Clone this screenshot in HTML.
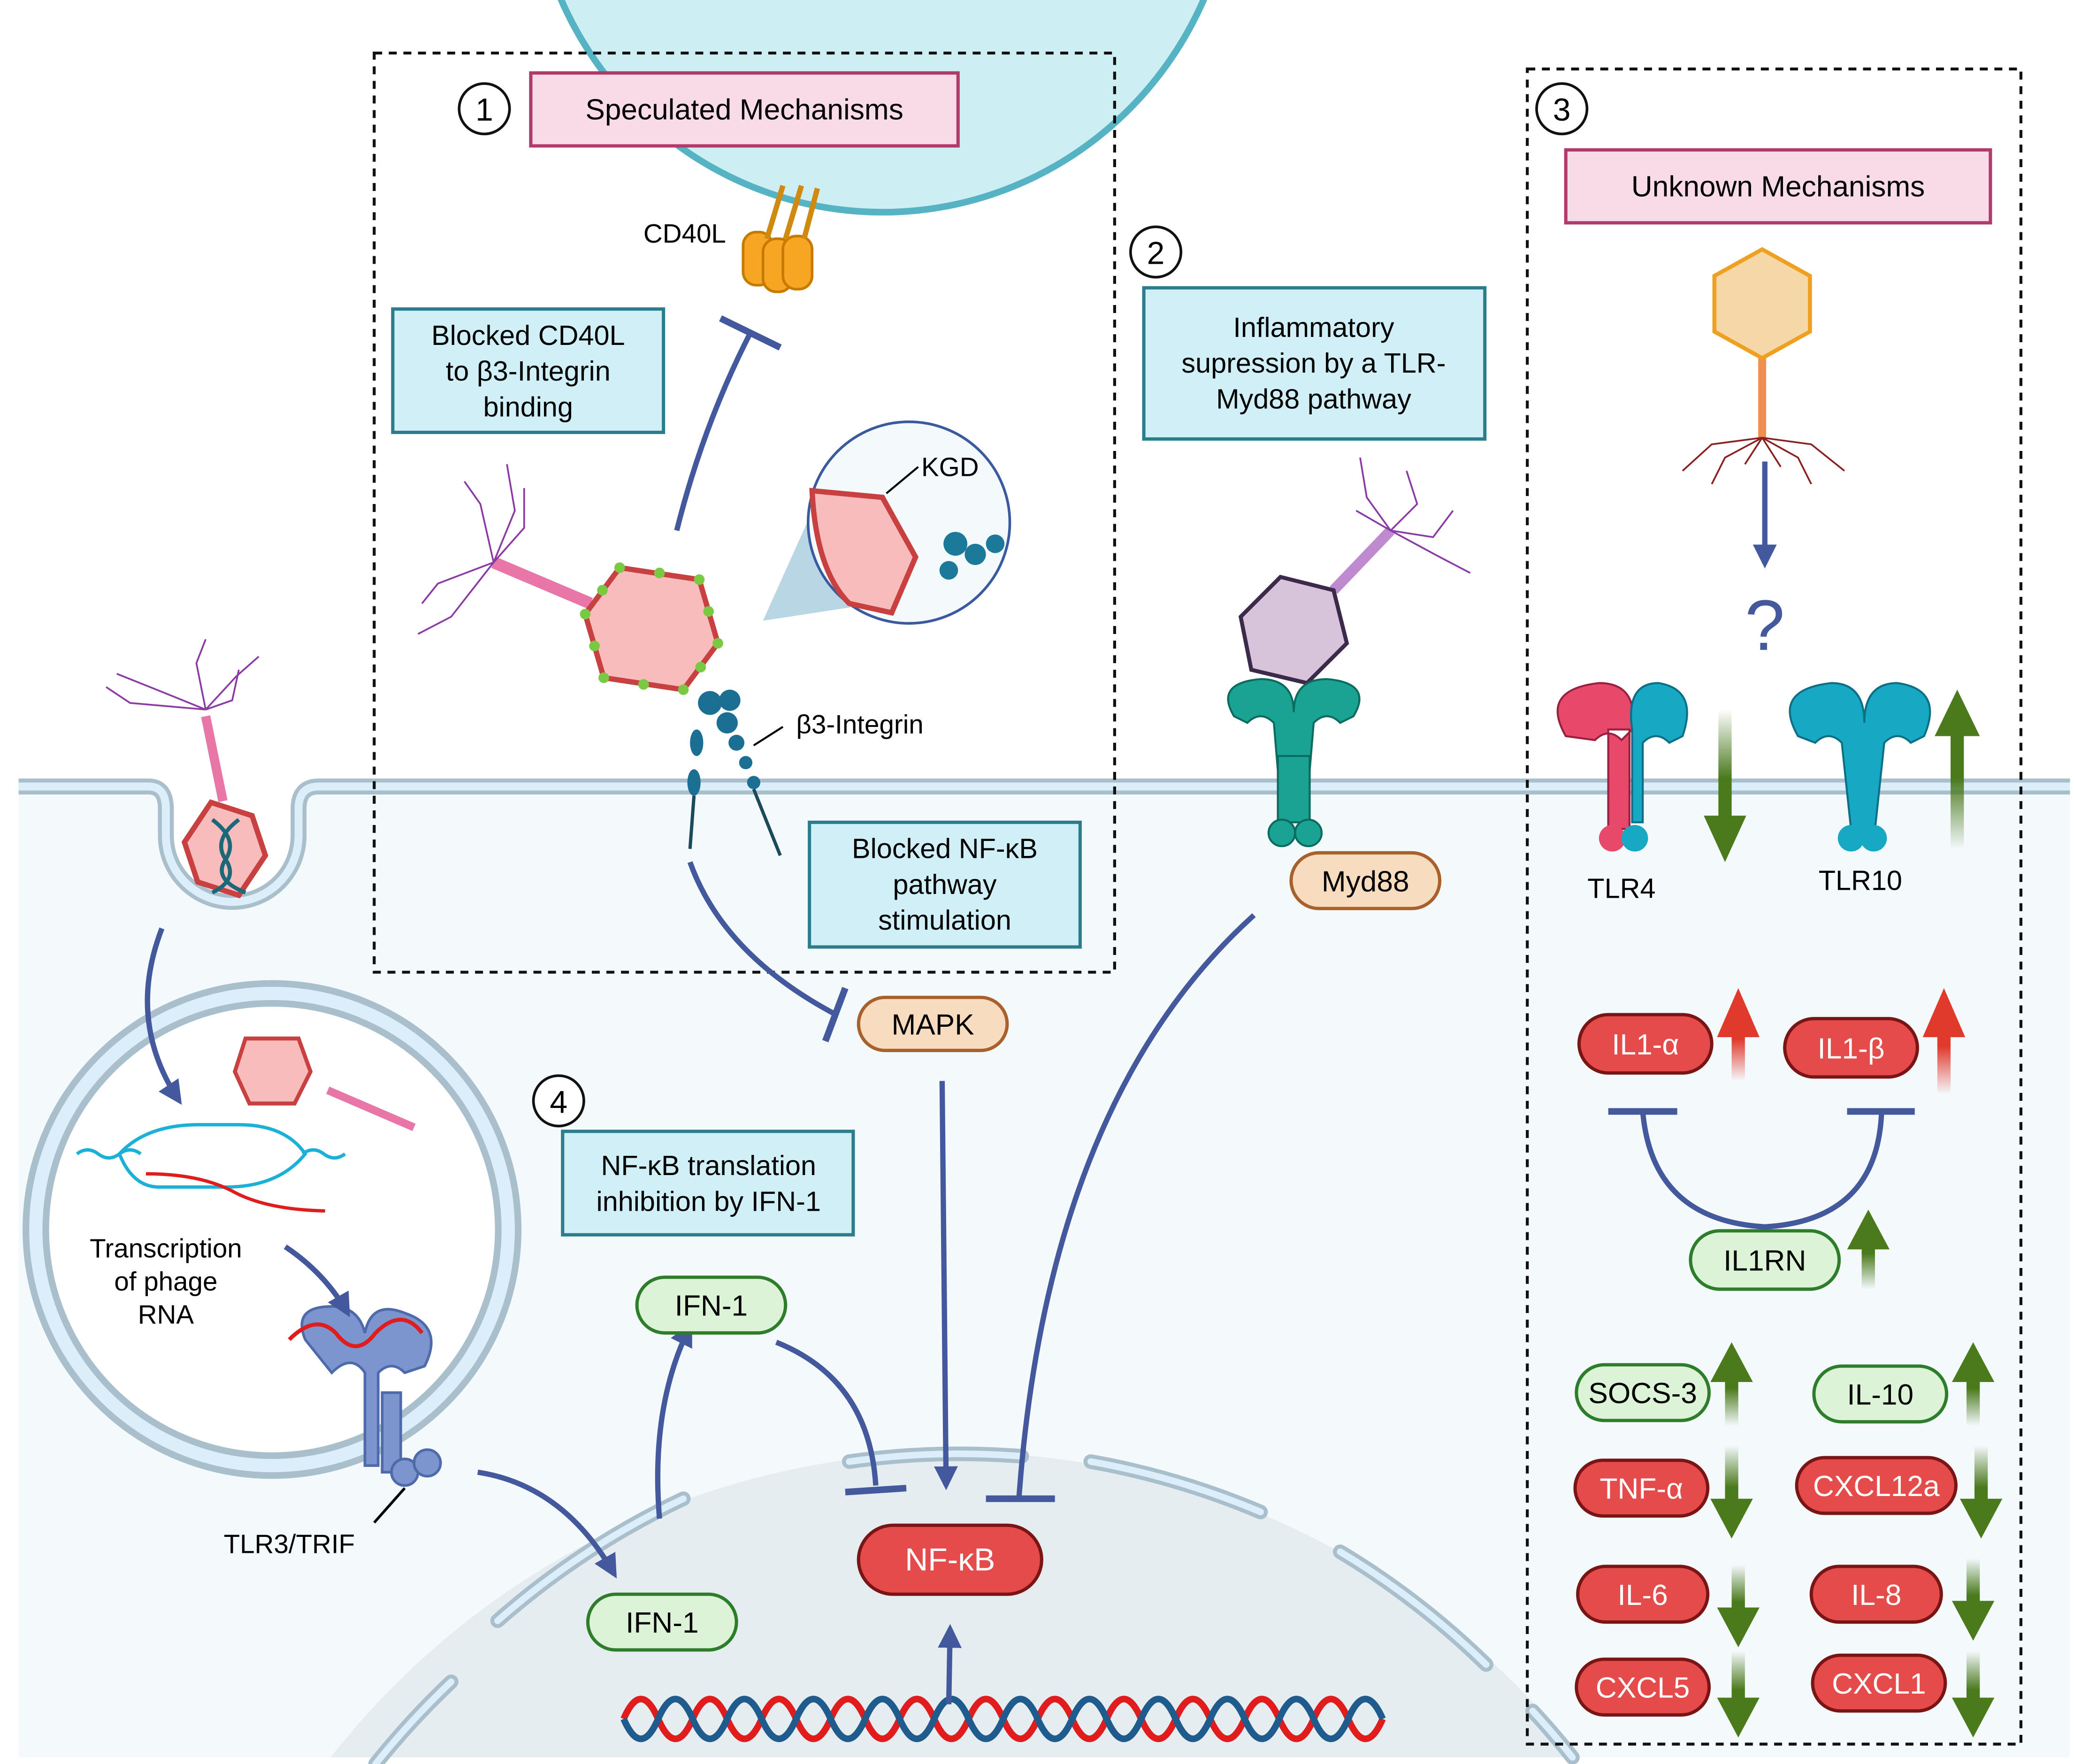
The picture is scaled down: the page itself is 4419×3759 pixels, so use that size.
<!DOCTYPE html>
<html><head><meta charset="utf-8"><style>html,body{margin:0;padding:0;background:#fff;width:4419px;height:3759px;overflow:hidden}svg{display:block}</style></head>
<body>
<svg xmlns="http://www.w3.org/2000/svg" width="4419" height="3759" viewBox="0 0 1563 1330" preserveAspectRatio="none" font-family="Liberation Sans, sans-serif">
<defs>
<clipPath id="pg"><rect width="1563" height="1330"/></clipPath>
<linearGradient id="gup" x1="0" y1="0" x2="0" y2="1"><stop offset="0.55" stop-color="#4a7a1c"/><stop offset="1" stop-color="#4a7a1c" stop-opacity="0"/></linearGradient>
<linearGradient id="gdn" x1="0" y1="1" x2="0" y2="0"><stop offset="0.55" stop-color="#4a7a1c"/><stop offset="1" stop-color="#4a7a1c" stop-opacity="0"/></linearGradient>
<linearGradient id="rup" x1="0" y1="0" x2="0" y2="1"><stop offset="0.55" stop-color="#e03a2c"/><stop offset="1" stop-color="#e03a2c" stop-opacity="0"/></linearGradient>
<marker id="ah" viewBox="0 0 10 10" refX="8" refY="5" markerWidth="4.5" markerHeight="4.5" orient="auto"><path d="M0,0 L10,5 L0,10 z" fill="#44589e"/></marker>
</defs>
<g clip-path="url(#pg)">
<rect width="1563" height="1330" fill="#fff"/>
<ellipse cx="665" cy="-110" rx="265" ry="270" fill="#cdeef2" stroke="#55b3c3" stroke-width="5"/>
<path d="M14,593 H115 Q125,593 125,610 V630 A50,50 0 0 0 225,630 V610 Q225,593 240,593 H1560 V1325 H14 Z" fill="#f4f9fc"/>
<path d="M14,593 H112 Q125,593 125,610 V630 A50,50 0 0 0 225,630 V610 Q225,593 240,593 H1560" fill="none" stroke="#a9bfcc" stroke-width="12"/>
<path d="M14,593 H112 Q125,593 125,610 V630 A50,50 0 0 0 225,630 V610 Q225,593 240,593 H1560" fill="none" stroke="#dceefa" stroke-width="6"/>
<ellipse cx="720" cy="1700" rx="600" ry="605" fill="#e6edf1"/>
<rect x="0" y="1325" width="1563" height="10" fill="#fff"/>
<g fill="none" stroke-linecap="round">
<g stroke="#a9bfcc" stroke-width="11">
<path d="M283,1330 A600,605 0 0 1 340,1268"/><path d="M375,1222 A600,605 0 0 1 515,1130"/><path d="M640,1102 A600,605 0 0 1 770,1098"/><path d="M822,1102 A600,605 0 0 1 950,1140"/><path d="M1010,1170 A600,605 0 0 1 1120,1255"/><path d="M1155,1290 A600,605 0 0 1 1185,1325"/>
</g>
<g stroke="#dceefa" stroke-width="5">
<path d="M283,1330 A600,605 0 0 1 340,1268"/><path d="M375,1222 A600,605 0 0 1 515,1130"/><path d="M640,1102 A600,605 0 0 1 770,1098"/><path d="M822,1102 A600,605 0 0 1 950,1140"/><path d="M1010,1170 A600,605 0 0 1 1120,1255"/><path d="M1155,1290 A600,605 0 0 1 1185,1325"/>
</g></g>
<path d="M470,1296 q13,-30 26,0 t26,0 t26,0 t26,0 t26,0 t26,0 t26,0 t26,0 t26,0 t26,0 t26,0 t26,0 t26,0 t26,0 t26,0 t26,0 t26,0 t26,0 t26,0 t26,0 t26,0 t26,0" fill="none" stroke="#e01c1c" stroke-width="5"/>
<path d="M470,1296 q13,30 26,0 t26,0 t26,0 t26,0 t26,0 t26,0 t26,0 t26,0 t26,0 t26,0 t26,0 t26,0 t26,0 t26,0 t26,0 t26,0 t26,0 t26,0 t26,0 t26,0 t26,0 t26,0" fill="none" stroke="#1f5b8c" stroke-width="5"/>
<circle cx="205" cy="927" r="178" fill="#fff" stroke="#a9bfcc" stroke-width="20"/>
<circle cx="205" cy="927" r="178" fill="none" stroke="#dceefa" stroke-width="10"/>
<polygon points="185,783 225,783 234,808 222,832 188,832 177,808" fill="#f9bcbc" stroke="#c94040" stroke-width="3"/>
<line x1="247" y1="822" x2="312" y2="850" stroke="#e877a8" stroke-width="6"/>
<path d="M58,870 q8,-6 16,0 t16,0 t16,0 M228,870 q8,-6 16,0 t16,0" fill="none" stroke="#1ab0d8" stroke-width="2.5"/>
<path d="M90,870 Q110,848 150,848 H180 Q215,848 230,870 Q210,895 170,895 H120 Q100,895 90,870Z" fill="none" stroke="#1ab0d8" stroke-width="2.5"/>
<path d="M110,885 Q150,885 175,898 Q200,912 245,913" fill="none" stroke="#e01c1c" stroke-width="2.5"/>
<text x="125" y="948" font-size="20" text-anchor="middle">Transcription</text>
<text x="125" y="973" font-size="20" text-anchor="middle">of phage</text>
<text x="125" y="998" font-size="20" text-anchor="middle">RNA</text>
<g fill="#7c95cf" stroke="#4f6aaa" stroke-width="2">
<path d="M230,1010 q-10,-25 20,-25 q20,0 25,20 q5,-25 30,-15 q30,10 15,40 l-15,5 q-10,-10 -20,0 l0,70 l-10,0 l0,-70 q-10,-15 -25,0z"/>
<rect x="288" y="1050" width="14" height="60"/>
<circle cx="305" cy="1110" r="10"/><circle cx="322" cy="1103" r="10"/>
</g>
<path d="M218,1010 q20,-20 35,-5 q15,20 30,0 q20,-20 35,0" fill="none" stroke="#e01c1c" stroke-width="3"/>
<line x1="282" y1="1148" x2="305" y2="1122" stroke="#000" stroke-width="2"/>
<text x="218" y="1171" font-size="20" text-anchor="middle">TLR3/TRIF</text>
<polygon points="159,605 190,615 200,645 180,675 149,665 139,635" fill="#f9bcbc" stroke="#c94040" stroke-width="4"/>
<path d="M160,618 q20,15 10,30 q-10,15 15,25 M180,618 q-20,15 -10,30 q10,15 -10,25" fill="none" stroke="#1a6878" stroke-width="3"/>
<line x1="155" y1="540" x2="168" y2="604" stroke="#e877a8" stroke-width="7"/>
<path d="M155,535 L118,520 L88,508 M155,535 L98,530 L80,518 M155,535 L148,500 L155,482 M155,535 L178,510 L195,495 M155,535 L175,528 L180,505" fill="none" stroke="#8a3aa5" stroke-width="1.3"/>
<rect x="282" y="40" width="558" height="693" fill="none" stroke="#111" stroke-width="2.2" stroke-dasharray="6,5"/>
<rect x="1151" y="52" width="372" height="1263" fill="none" stroke="#111" stroke-width="2.2" stroke-dasharray="6,5"/>
<rect x="400" y="55" width="322" height="55" fill="#f7dbe7" stroke="#b03a6a" stroke-width="2.5"/>
<text x="561" y="90" font-size="22" text-anchor="middle">Speculated Mechanisms</text>
<rect x="1180" y="113" width="320" height="55" fill="#f7dbe7" stroke="#b03a6a" stroke-width="2.5"/>
<text x="1340" y="148" font-size="22" text-anchor="middle">Unknown Mechanisms</text>
<g fill="#d0eff6" stroke="#2a7d8c" stroke-width="2.5">
<rect x="296" y="233" width="204" height="93"/><rect x="862" y="217" width="257" height="114"/><rect x="610" y="620" width="204" height="94"/><rect x="424" y="853" width="219" height="78"/></g>
<g font-size="21" text-anchor="middle">
<text x="398" y="260">Blocked CD40L</text><text x="398" y="287">to β3-Integrin</text><text x="398" y="314">binding</text>
<text x="990" y="254">Inflammatory</text><text x="990" y="281">supression by a TLR-</text><text x="990" y="308">Myd88 pathway</text>
<text x="712" y="647">Blocked NF-κB</text><text x="712" y="674">pathway</text><text x="712" y="701">stimulation</text>
<text x="534" y="886">NF-κB translation</text><text x="534" y="913">inhibition by IFN-1</text>
</g>
<g fill="#fff" stroke="#111" stroke-width="2"><circle cx="365" cy="82" r="19"/><circle cx="871" cy="190" r="19"/><circle cx="1177" cy="82" r="19"/><circle cx="421" cy="830" r="19"/></g>
<g font-size="24" text-anchor="middle"><text x="365" y="91">1</text><text x="871" y="199">2</text><text x="1177" y="91">3</text><text x="421" y="839">4</text></g>
<g fill="#f6a623" stroke="#c77a00" stroke-width="2"><rect x="560" y="175" width="22" height="40" rx="10"/><rect x="575" y="180" width="22" height="40" rx="10"/><rect x="590" y="178" width="22" height="40" rx="10"/></g>
<path d="M578,180 L590,140 M592,180 L604,140 M606,180 L616,142" stroke="#d08a10" stroke-width="4"/>
<text x="516" y="183" font-size="20" text-anchor="middle">CD40L</text>
<path d="M510,400 Q530,320 566,250" fill="none" stroke="#44589e" stroke-width="4"/>
<line x1="543" y1="240" x2="588" y2="262" stroke="#44589e" stroke-width="5"/>
<line x1="445" y1="455" x2="372" y2="424" stroke="#e877a8" stroke-width="9"/>
<path d="M372,424 L330,440 L318,455 M372,424 L340,465 L315,478 M372,424 L362,380 L350,363 M372,424 L388,385 L382,350 M372,424 L395,398 L395,368" fill="none" stroke="#8a3aa5" stroke-width="1.3"/>
<polygon points="467,428 527,437 541,485 515,520 455,511 441,463" fill="#f9bcbc" stroke="#c94040" stroke-width="4"/>
<g fill="#7ac943"><circle cx="467" cy="428" r="4"/><circle cx="497" cy="432" r="4"/><circle cx="527" cy="437" r="4"/><circle cx="534" cy="461" r="4"/><circle cx="541" cy="485" r="4"/><circle cx="528" cy="503" r="4"/><circle cx="515" cy="520" r="4"/><circle cx="485" cy="516" r="4"/><circle cx="455" cy="511" r="4"/><circle cx="448" cy="487" r="4"/><circle cx="441" cy="463" r="4"/><circle cx="454" cy="445" r="4"/></g>
<polygon points="575,468 628,350 660,455" fill="#b9d6e4"/>
<circle cx="685" cy="394" r="76" fill="#f4f9fc" stroke="#3a5aa0" stroke-width="2"/>
<path d="M612,370 L665,375 L690,420 L672,462 L640,455 Q615,430 612,370Z" fill="#f9bcbc" stroke="#c94040" stroke-width="4"/>
<g fill="#1b7a9a"><circle cx="720" cy="410" r="9"/><circle cx="735" cy="418" r="8"/><circle cx="750" cy="410" r="7"/><circle cx="715" cy="430" r="7"/></g>
<line x1="668" y1="372" x2="692" y2="352" stroke="#000" stroke-width="1.5"/>
<text x="716" y="359" font-size="20" text-anchor="middle">KGD</text>
<g fill="#1b6f92"><circle cx="535" cy="530" r="9"/><circle cx="550" cy="528" r="8"/><circle cx="548" cy="545" r="8"/><circle cx="555" cy="560" r="6"/><circle cx="562" cy="575" r="5"/><circle cx="568" cy="590" r="5"/><ellipse cx="525" cy="560" rx="5" ry="10"/><ellipse cx="523" cy="590" rx="5" ry="10"/></g>
<path d="M523,600 L520,640 M568,595 L588,645" stroke="#1b4a5a" stroke-width="2.5"/>
<line x1="568" y1="562" x2="590" y2="548" stroke="#000" stroke-width="1.5"/>
<text x="648" y="553" font-size="20" text-anchor="middle">β3-Integrin</text>
<path d="M520,650 Q545,720 630,765" fill="none" stroke="#44589e" stroke-width="4"/>
<line x1="622" y1="785" x2="637" y2="745" stroke="#44589e" stroke-width="5"/>
<line x1="1005" y1="445" x2="1048" y2="400" stroke="#c08ad0" stroke-width="8"/>
<path d="M1048,400 L1030,375 L1025,345 M1048,400 L1068,380 L1060,355 M1048,400 L1085,420 L1108,432 M1048,400 L1080,405 L1095,385 M1048,400 L1022,385" fill="none" stroke="#8a3aa5" stroke-width="1.3"/>
<polygon points="965,435 1005,445 1015,485 985,515 943,505 935,465" fill="#d7c3da" stroke="#3b2a4a" stroke-width="3"/>
<g fill="#1aa393" stroke="#0c6b5e" stroke-width="1.5">
<path d="M930,540 q-15,-25 20,-28 q25,0 25,25 q0,-25 25,-25 q35,3 20,28 l-10,5 q-10,-10 -20,0 l-5,60 l-20,0 l-5,-60 q-10,-10 -20,0z"/>
<rect x="963" y="570" width="24" height="50"/>
<circle cx="966" cy="628" r="10"/><circle cx="986" cy="628" r="10"/>
</g>
<g stroke-width="2.5">
<rect x="973" y="643" width="112" height="42" rx="21" fill="#f8dcc0" stroke="#a8602c"/>
<rect x="647" y="752" width="112" height="40" rx="20" fill="#f8dcc0" stroke="#a8602c"/>
</g>
<text x="1029" y="672" font-size="22" text-anchor="middle">Myd88</text>
<text x="703" y="780" font-size="22" text-anchor="middle">MAPK</text>
<g fill="none" stroke="#44589e" stroke-width="4">
<path d="M710,815 L713,1120" marker-end="url(#ah)"/>
<path d="M945,690 Q790,830 768,1128"/>
<line x1="743" y1="1130" x2="795" y2="1130" stroke-width="5"/>
<path d="M585,1012 Q655,1040 660,1120"/>
<line x1="637" y1="1125" x2="683" y2="1122" stroke-width="5"/>
<path d="M497,1145 Q490,1060 520,1000" marker-end="url(#ah)"/>
<path d="M360,1110 Q425,1120 463,1187" marker-end="url(#ah)"/>
<path d="M122,700 Q95,770 135,830" marker-end="url(#ah)"/>
<path d="M215,940 Q245,960 262,990" marker-end="url(#ah)"/>
<path d="M715,1285 L716,1228" marker-end="url(#ah)"/>
<path d="M1330,348 L1330,425" marker-end="url(#ah)"/>
<path d="M1238,838 Q1245,920 1330,925 Q1415,920 1418,838"/>
<line x1="1212" y1="838" x2="1264" y2="838" stroke-width="5"/>
<line x1="1392" y1="838" x2="1443" y2="838" stroke-width="5"/>
</g>
<rect x="647" y="1150" width="138" height="52" rx="26" fill="#e54b4b" stroke="#7a1515" stroke-width="2.5"/>
<text x="716" y="1184" font-size="24" fill="#fff" text-anchor="middle">NF-κB</text>
<g fill="#dcf3d8" stroke="#2e7d2a" stroke-width="2.5">
<rect x="480" y="963" width="112" height="42" rx="21"/><rect x="443" y="1202" width="112" height="42" rx="21"/>
<rect x="1274" y="928" width="112" height="44" rx="22"/><rect x="1188" y="1029" width="100" height="42" rx="21"/><rect x="1367" y="1030" width="100" height="42" rx="21"/>
</g>
<g font-size="22" text-anchor="middle">
<text x="536" y="992">IFN-1</text><text x="499" y="1231">IFN-1</text><text x="1330" y="958">IL1RN</text><text x="1238" y="1058">SOCS-3</text><text x="1417" y="1059">IL-10</text>
</g>
<g fill="#e54b4b" stroke="#7a1515" stroke-width="2.5">
<rect x="1190" y="765" width="100" height="44" rx="22"/><rect x="1345" y="768" width="100" height="44" rx="22"/>
<rect x="1187" y="1101" width="100" height="42" rx="21"/><rect x="1354" y="1099" width="120" height="42" rx="21"/>
<rect x="1189" y="1181" width="98" height="42" rx="21"/><rect x="1365" y="1181" width="98" height="42" rx="21"/>
<rect x="1188" y="1251" width="100" height="42" rx="21"/><rect x="1366" y="1248" width="100" height="42" rx="21"/>
</g>
<g font-size="22" fill="#fff" text-anchor="middle">
<text x="1240" y="795">IL1-α</text><text x="1395" y="798">IL1-β</text><text x="1237" y="1130">TNF-α</text><text x="1414" y="1128">CXCL12a</text>
<text x="1238" y="1210">IL-6</text><text x="1414" y="1210">IL-8</text><text x="1238" y="1280">CXCL5</text><text x="1416" y="1277">CXCL1</text>
</g>
<g fill="url(#gup)">
<path d="M1475,520 L1492,555 L1480,555 L1480,640 L1470,640 L1470,555 L1458,555Z"/>
<path d="M1408,912 L1424,942 L1413,942 L1413,972 L1403,972 L1403,942 L1392,942Z"/>
<path d="M1305,1012 L1321,1042 L1310,1042 L1310,1075 L1300,1075 L1300,1042 L1289,1042Z"/>
<path d="M1487,1012 L1503,1042 L1492,1042 L1492,1075 L1482,1075 L1482,1042 L1471,1042Z"/>
</g>
<g fill="url(#gdn)">
<path d="M1300,650 L1316,615 L1305,615 L1305,535 L1295,535 L1295,615 L1284,615Z"/>
<path d="M1305,1160 L1321,1130 L1310,1130 L1310,1090 L1300,1090 L1300,1130 L1289,1130Z"/>
<path d="M1493,1160 L1509,1130 L1498,1130 L1498,1090 L1488,1090 L1488,1130 L1477,1130Z"/>
<path d="M1310,1242 L1326,1212 L1315,1212 L1315,1180 L1305,1180 L1305,1212 L1294,1212Z"/>
<path d="M1487,1237 L1503,1207 L1492,1207 L1492,1175 L1482,1175 L1482,1207 L1471,1207Z"/>
<path d="M1310,1310 L1326,1280 L1315,1280 L1315,1245 L1305,1245 L1305,1280 L1294,1280Z"/>
<path d="M1487,1310 L1503,1280 L1492,1280 L1492,1245 L1482,1245 L1482,1280 L1471,1280Z"/>
</g>
<g fill="url(#rup)">
<path d="M1310,745 L1326,782 L1315,782 L1315,815 L1305,815 L1305,782 L1294,782Z"/>
<path d="M1465,745 L1481,782 L1470,782 L1470,825 L1460,825 L1460,782 L1449,782Z"/>
</g>
<g stroke-width="1.5">
<path d="M1180,555 q-20,-35 25,-40 q30,0 25,35 l-8,8 q-10,-10 -20,0z M1212,550 l0,75 l16,0 l0,-75z" fill="#e8496a" stroke="#9a2040"/>
<path d="M1230,550 q-5,-35 20,-35 q30,5 18,40 l-10,5 q-10,-10 -20,0 l0,60 l-8,0z" fill="#17a9c3" stroke="#0d6f85"/>
<circle cx="1215" cy="632" r="10" fill="#e8496a"/><circle cx="1232" cy="632" r="10" fill="#17a9c3"/>
<path d="M1355,555 q-20,-35 25,-40 q25,0 25,30 q0,-30 25,-30 q35,5 20,40 l-10,5 q-10,-10 -20,0 l-8,75 l-16,0 l-8,-75 q-10,-10 -20,0z" fill="#17a9c3" stroke="#0d6f85"/>
<circle cx="1395" cy="632" r="10" fill="#17a9c3"/><circle cx="1412" cy="632" r="10" fill="#17a9c3"/>
</g>
<text x="1222" y="677" font-size="21" text-anchor="middle">TLR4</text>
<text x="1402" y="671" font-size="21" text-anchor="middle">TLR10</text>
<line x1="1328" y1="268" x2="1328" y2="330" stroke="#f09050" stroke-width="6"/>
<path d="M1328,330 L1290,335 L1268,355 M1328,330 L1300,345 L1290,365 M1328,330 L1365,335 L1390,355 M1328,330 L1355,345 L1365,365 M1328,330 L1315,350 M1328,330 L1342,352" fill="none" stroke="#8a2020" stroke-width="1.3"/>
<polygon points="1328,188 1364,208 1364,250 1328,270 1292,250 1292,208" fill="#f6d7a8" stroke="#f0a020" stroke-width="3"/>
<text x="1330" y="490" font-size="54" fill="#44589e" text-anchor="middle">?</text>
</g>
</svg>
</body></html>
